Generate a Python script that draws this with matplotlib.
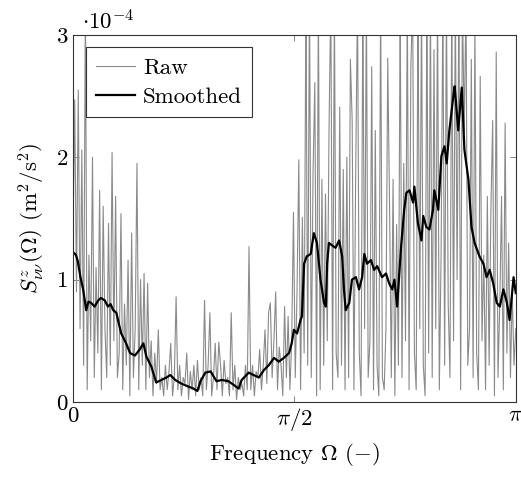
import numpy as np
import matplotlib
matplotlib.use("Agg")
import matplotlib.pyplot as plt

plt.rcParams['font.family'] = 'serif'
plt.rcParams['font.serif'] = ['cmr10', 'DejaVu Serif']
plt.rcParams['mathtext.fontset'] = 'cm'
plt.rcParams['axes.unicode_minus'] = False

# raw spectrum (units of 1e-4 m^2/s^2), evenly spaced over 0..pi
raw_vals = [
    1.3, 2.47, 0.9, 2.55, 0.6, 2.06, 0.3, 3.3, 0.1, 1.2, 0.5, 2.0, 0.2, 1.1, 0.4, 1.73, 0.1, 1.6, 0.6, 0.2, 1.46, 0.3, 2.04, 0.5, 1.68,
    0.2, 0.4, 1.54, 0.1, 0.8, 0.3, 1.16, 0.05, 1.38, 0.2, 0.6, 1.95, 0.1, 1.0, 0.3, 1.05, 0.1, 0.97, 0.2, 0.5, 0.05, 0.4, 0.15, 0.59, 0.1,
    0.2, 0.05, 0.3, 0.1, 0.25, 0.48, 0.05, 0.2, 0.86, 0.1, 0.3, 0.05, 0.2, 0.15, 0.4, 0.02, 0.25, 0.1, 0.3, 0.05, 0.34, 0.1, 0.2, 0.05, 0.83,
    0.1, 0.3, 0.73, 0.05, 0.2, 0.48, 0.1, 0.49, 0.3, 0.05, 0.34, 0.15, 0.2, 0.05, 0.73, 0.1, 0.3, 0.02, 0.2, 0.1, 0.15, 0.05, 0.3, 0.1, 1.27,
    0.1, 0.3, 0.05, 0.25, 0.2, 0.43, 0.1, 0.3, 0.59, 0.15, 0.73, 0.81, 0.2, 0.5, 0.9, 0.1, 0.45, 0.3, 0.05, 0.78, 0.2, 0.7, 0.1, 0.5, 1.55,
    0.2, 0.9, 1.98, 0.1, 1.51, 0.4, 3.3, 0.3, 3.4, 0.2, 1.87, 2.61, 0.05, 3.3, 0.1, 1.82, 0.3, 1.7, 0.5, 2.25, 3.3, 0.1, 3.3, 0.4, 0.2,
    2.41, 0.3, 1.9, 0.1, 2.0, 0.2, 2.8, 2.3, 0.1, 1.9, 3.3, 0.4, 0.05, 3.3, 0.6, 3.3, 0.2, 0.5, 2.74, 0.1, 2.22, 0.3, 0.05, 3.3, 0.2,
    0.1, 0.6, 2.81, 1.63, 0.2, 1.82, 0.05, 1.45, 0.3, 3.3, 0.2, 1.95, 0.5, 3.3, 0.1, 2.74, 3.3, 0.4, 0.1, 3.3, 0.6, 3.3, 0.3, 0.05, 3.3,
    0.4, 3.3, 0.2, 2.88, 0.6, 3.3, 0.1, 1.2, 3.3, 0.3, 3.3, 0.8, 0.2, 3.3, 0.5, 3.3, 1.0, 3.3, 0.1, 3.3, 2.2, 3.3, 0.3, 0.6, 2.8,
    0.2, 3.1, 0.4, 0.1, 2.66, 0.5, 1.2, 0.1, 1.68, 0.3, 1.57, 2.3, 0.05, 2.86, 0.2, 0.8, 1.68, 0.1, 2.28, 0.4, 1.3, 0.2, 0.9, 0.3, 0.6,
]

# smoothed spectrum: frequency as a fraction of pi, value in 1e-4
smooth_frac = [
    0.000, 0.002, 0.007, 0.011, 0.017, 0.023, 0.030, 0.035, 0.041, 0.049, 0.057, 0.063, 0.072, 0.079, 0.085,
    0.091, 0.098, 0.103, 0.109, 0.120, 0.129, 0.140, 0.151, 0.159, 0.166, 0.177, 0.188, 0.200, 0.211, 0.220,
    0.231, 0.245, 0.258, 0.272, 0.281, 0.288, 0.299, 0.311, 0.324, 0.336, 0.351, 0.363, 0.374, 0.381, 0.397,
    0.408, 0.420, 0.431, 0.442, 0.454, 0.465, 0.476, 0.488, 0.494, 0.499, 0.506, 0.514, 0.517, 0.522, 0.528,
    0.537, 0.544, 0.551, 0.559, 0.567, 0.571, 0.574, 0.578, 0.585, 0.593, 0.601, 0.608, 0.612, 0.616, 0.624,
    0.630, 0.639, 0.646, 0.653, 0.658, 0.664, 0.673, 0.680, 0.687, 0.698, 0.707, 0.714, 0.721, 0.726, 0.732,
    0.741, 0.748, 0.753, 0.760, 0.768, 0.771, 0.779, 0.787, 0.791, 0.798, 0.805, 0.813, 0.816, 0.825, 0.832,
    0.839, 0.844, 0.850, 0.859, 0.862, 0.870, 0.878, 0.884, 0.893, 0.900, 0.907, 0.918, 0.927, 0.934, 0.941,
    0.949, 0.957, 0.964, 0.972, 0.980, 0.986, 0.995, 1.000,
]
smooth_vals = [
    1.22, 1.22, 1.20, 1.15, 1.02, 0.92, 0.75, 0.82, 0.81, 0.78, 0.83, 0.85, 0.83, 0.78, 0.80,
    0.75, 0.73, 0.65, 0.56, 0.48, 0.40, 0.38, 0.43, 0.48, 0.37, 0.29, 0.16, 0.18, 0.20, 0.22,
    0.18, 0.15, 0.13, 0.11, 0.09, 0.17, 0.24, 0.25, 0.17, 0.18, 0.17, 0.14, 0.11, 0.18, 0.24,
    0.22, 0.20, 0.26, 0.30, 0.36, 0.33, 0.36, 0.40, 0.48, 0.59, 0.56, 0.67, 0.70, 1.13, 1.19,
    1.21, 1.38, 1.30, 1.00, 0.81, 0.78, 1.13, 1.30, 1.28, 1.26, 1.32, 1.19, 0.92, 0.75, 0.81,
    1.00, 1.02, 0.92, 1.02, 1.21, 1.13, 1.16, 1.08, 1.11, 1.02, 1.05, 0.97, 0.92, 1.00, 0.78,
    1.27, 1.57, 1.71, 1.73, 1.63, 1.76, 1.46, 1.32, 1.52, 1.43, 1.41, 1.57, 1.73, 1.57, 2.01,
    2.09, 1.95, 2.22, 2.50, 2.58, 2.22, 2.57, 2.06, 1.82, 1.43, 1.30, 1.19, 1.13, 1.02, 1.08,
    0.97, 0.81, 0.78, 0.92, 0.81, 0.67, 1.02, 0.89,
]

raw_omega = np.linspace(0, np.pi, len(raw_vals))
smooth_omega = np.pi * np.array(smooth_frac)

fig = plt.figure(figsize=(5.21, 4.78), dpi=100)
ax = fig.add_axes([0.140, 0.159, 0.850, 0.768])

ax.plot(raw_omega, raw_vals, color='#8a8a8a', lw=0.8, label='Raw')
ax.plot(smooth_omega, smooth_vals, color='black', lw=1.6, label='Smoothed')

ax.set_xlim(0, np.pi)
ax.set_ylim(0, 3)
ax.set_xticks([0, np.pi / 2, np.pi])
ax.set_xticklabels(['$0$', r'$\pi/2$', r'$\pi$'])
ax.set_yticks([0, 1, 2, 3])
ax.set_yticklabels(['$0$', '$1$', '$2$', '$3$'])
ax.tick_params(direction='in', length=4, width=0.5, labelsize=16.5,
               top=True, right=True, color='#555555')
ax.tick_params(axis='x', pad=3)
for s in ax.spines.values():
    s.set_linewidth(0.8)
    s.set_color('#333333')

ax.set_xlabel(r'Frequency $\Omega$ $(-)$', fontsize=16.5, labelpad=6)
ax.set_ylabel(r'$S^{z}_{\nu\nu}(\Omega)$ $(\mathrm{m}^2/\mathrm{s}^2)$', fontsize=16.5, labelpad=6)
ax.text(0.02, 1.005, r'$\cdot10^{-4}$', transform=ax.transAxes, fontsize=16.5,
        ha='left', va='bottom')

leg = ax.legend(loc='upper left', fontsize=16.5, fancybox=False, framealpha=1,
                edgecolor='#333333', handlelength=1.7, handletextpad=0.35,
                borderpad=0.45, labelspacing=0.4, borderaxespad=0.55)
leg.get_frame().set_linewidth(0.8)

fig.savefig('out.png', dpi=100)
